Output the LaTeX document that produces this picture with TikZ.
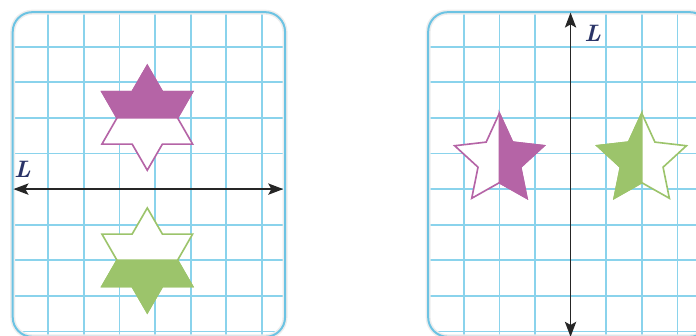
\documentclass[tikz,border=0pt]{standalone}
\usetikzlibrary{arrows.meta}
\usetikzlibrary{scopes}

\definecolor{gridblue}{HTML}{8AD3EC}
\definecolor{frameblue}{HTML}{6CC3E3}
\definecolor{starpurple}{HTML}{B564A6}
\definecolor{stargreen}{HTML}{9CC46B}
\definecolor{labelnavy}{HTML}{2A3468}

\tikzset{
    panel/.style={draw=frameblue,line width=1.6pt,rounded corners=0.55cm,
        preaction={draw,line width=4pt,black!7}},
    gridline/.style={gridblue,line width=1.3pt},
    axis/.style={black!85,line width=1.4pt,
        {Stealth[length=12pt,width=9pt,inset=2.5pt]}-{Stealth[length=12pt,width=9pt,inset=2.5pt]}},
    axislabel/.style={font=\fontsize{19}{22}\selectfont\bfseries\itshape,
        text=labelnavy,inner sep=0pt},
    starline/.style={line width=1.3pt,line join=miter,fill=white},
    starfill/.style={line width=1.3pt,line join=miter},
}

\begin{document}
\begin{tikzpicture}
    \useasboundingbox (-0.357,-0.126) rectangle (19.194,9.312);

    { [] % left panel
        { []
            \clip[rounded corners=0.55cm] (0,-0.15) rectangle (7.65,8.97);
            \fill[white] (0,-0.15) rectangle (7.65,8.97);
            \foreach \x in {1,...,7}
                \draw[gridline] (\x,-0.2) -- (\x,9);
            \foreach \y in {0,...,8}
                \draw[gridline] (0,\y) -- (7.65,\y);
        }
        \draw[panel] (0,-0.15) rectangle (7.65,8.97);

        \coordinate (west) at (0.02,4);
        \coordinate (east) at (7.6,4);
        \draw[axis] (west) -- (east);
        \node[axislabel] (lleft) at (0.27,4.56) {L};

        { [shift={(3.78,6)}]
            \draw[starline,draw=starpurple] (90:1.47) -- (120:0.85) -- (150:1.47)
                -- (180:0.85) -- (210:1.47) -- (240:0.85) -- (270:1.47)
                -- (300:0.85) -- (330:1.47) -- (0:0.85) -- (30:1.47)
                -- (60:0.85) -- cycle;
            \filldraw[starfill,starpurple] (180:0.85) -- (150:1.47) -- (120:0.85)
                -- (90:1.47) -- (60:0.85) -- (30:1.47) -- (0:0.85) -- cycle;
        }
        { [shift={(3.78,2)}]
            \draw[starline,draw=stargreen] (90:1.47) -- (120:0.85) -- (150:1.47)
                -- (180:0.85) -- (210:1.47) -- (240:0.85) -- (270:1.47)
                -- (300:0.85) -- (330:1.47) -- (0:0.85) -- (30:1.47)
                -- (60:0.85) -- cycle;
            \filldraw[starfill,stargreen] (180:0.85) -- (210:1.47) -- (240:0.85)
                -- (270:1.47) -- (300:0.85) -- (330:1.47) -- (0:0.85) -- cycle;
        }
    }

    { [xshift=11.67cm] % right panel
        { []
            \clip[rounded corners=0.55cm] (0,-0.15) rectangle (7.9,8.97);
            \fill[white] (0,-0.15) rectangle (7.9,8.97);
            \foreach \x in {1,...,7}
                \draw[gridline] (\x,-0.2) -- (\x,9);
            \foreach \y in {0,...,8}
                \draw[gridline] (0,\y) -- (7.9,\y);
        }
        \draw[panel] (0,-0.15) rectangle (7.9,8.97);

        \coordinate (north) at (4,8.96);
        \coordinate (south) at (4,-0.15);
        \draw[axis] (north) -- (south);
        \node[axislabel] (lright) at (4.62,8.38) {L};

        { [shift={(2,4.81)}]
            \draw[starline,draw=starpurple] (90:1.32) -- (126:0.63) -- (162:1.32)
                -- (198:0.63) -- (234:1.32) -- (270:0.63) -- (306:1.32)
                -- (342:0.63) -- (18:1.32) -- (54:0.63) -- cycle;
            \filldraw[starfill,starpurple] (90:1.32) -- (54:0.63) -- (18:1.32)
                -- (-18:0.63) -- (-54:1.32) -- (-90:0.63) -- cycle;
        }
        { [shift={(6,4.81)}]
            \draw[starline,draw=stargreen] (90:1.32) -- (126:0.63) -- (162:1.32)
                -- (198:0.63) -- (234:1.32) -- (270:0.63) -- (306:1.32)
                -- (342:0.63) -- (18:1.32) -- (54:0.63) -- cycle;
            \filldraw[starfill,stargreen] (90:1.32) -- (126:0.63) -- (162:1.32)
                -- (198:0.63) -- (234:1.32) -- (270:0.63) -- cycle;
        }
    }
\end{tikzpicture}
\end{document}
